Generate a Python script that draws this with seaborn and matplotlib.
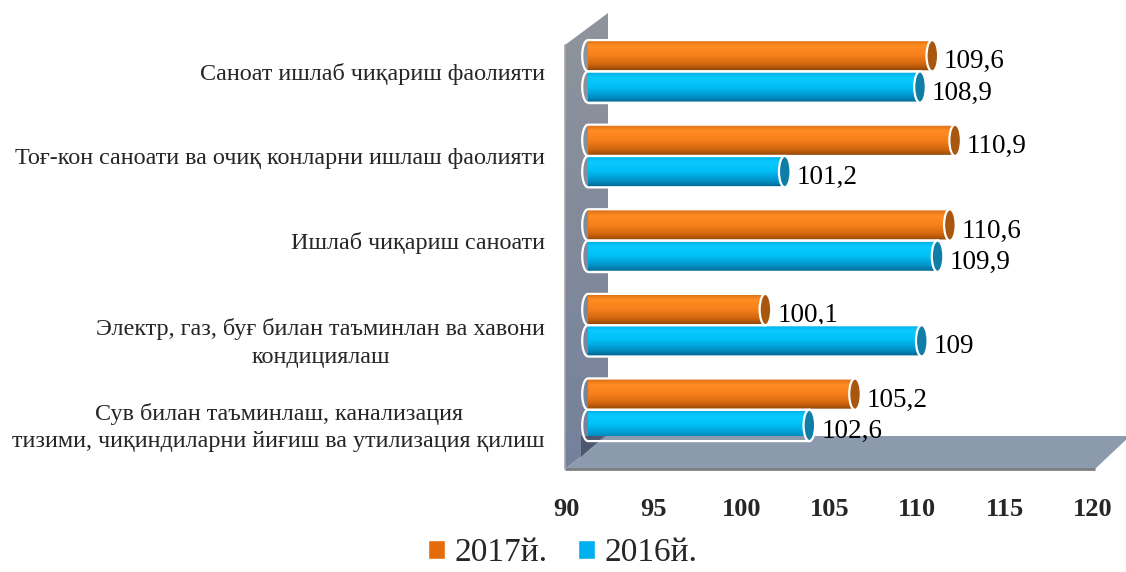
import matplotlib
matplotlib.use('Agg')
import matplotlib.pyplot as plt
import matplotlib.colors as mcolors
import matplotlib.transforms as mtransforms
from matplotlib.patches import Polygon, Ellipse, PathPatch
from matplotlib.path import Path
import numpy as np
import pandas as pd
import seaborn as sns

categories = [
    'Саноат ишлаб чиқариш фаолияти',
    'Тоғ-кон саноати ва очиқ конларни ишлаш фаолияти',
    'Ишлаб чиқариш саноати',
    'Электр, газ, буғ билан таъминлан ва хавони\nкондициялаш',
    'Сув билан таъминлаш, канализация\nтизими, чиқиндиларни йиғиш ва утилизация қилиш',
]
years = ['2017й.', '2016й.']
vals_2017 = [109.6, 110.9, 110.6, 100.1, 105.2]
vals_2016 = [108.9, 101.2, 109.9, 109, 102.6]
x_ticks = [90, 95, 100, 105, 110, 115, 120]

df = pd.DataFrame({
    'cat': categories * 2,
    'year': [years[0]] * len(categories) + [years[1]] * len(categories),
    'value': vals_2017 + vals_2016,
})

sns.set_style('white')
plt.rcParams['font.family'] = ['Liberation Serif', 'DejaVu Serif']

W, H = 1126, 572
fig = plt.figure(figsize=(W / 100, H / 100), dpi=100)

# grey 3d-ish wall and floor, drawn in pixel space
bg = fig.add_axes([0, 0, 1, 1], zorder=0)
bg.set_xlim(0, W)
bg.set_ylim(H, 0)
bg.axis('off')
floor_c = '#8c9aad'
wall = Polygon([(565, 469), (565, 45), (608, 13), (608, 436)], closed=True,
               facecolor='none', edgecolor='none')
bg.add_patch(wall)
wall_cmap = mcolors.LinearSegmentedColormap.from_list('w', ['#8f949c', '#75819b'])
wim = bg.imshow(wall_cmap(np.linspace(0, 1, 64))[:, None, :], extent=(565, 608, 469, 13),
                origin='upper', aspect='auto', interpolation='bilinear')
wim.set_clip_path(wall)
bg.add_patch(Polygon([(565, 469), (1095, 469), (1130, 436), (608, 436)], closed=True,
                     facecolor=floor_c, edgecolor='none'))
bg.add_patch(Polygon([(581, 457), (581, 436), (604, 436)], closed=True,
                     facecolor='#4d586e', edgecolor='none'))
bg.plot([565, 1095], [469, 469], color='#7f7f7f', lw=2, solid_capstyle='butt')
bg.plot([565, 565], [45, 469], color='#a6a6a6', lw=1.2)
bg.set_xlim(0, W)
bg.set_ylim(H, 0)

ax = fig.add_axes([588 / W, (H - 436) / H, 527 / W, 423 / H], zorder=1)
ax.set_facecolor('none')

orange = '#e46c0a'
blue = '#00b0f0'
sns.barplot(data=df, y='cat', x='value', hue='year', hue_order=years,
            palette=[orange, blue], orient='h', width=0.74, saturation=1,
            ax=ax, legend=True)

xlim = (90, 120)
ylim = (4.31, -0.69)
ax.set_xlim(*xlim)
ax.set_ylim(*ylim)

grad = {
    orange: (['#d46a14', '#ff8c22', '#f7801a', '#d0660e', '#8a4406'], '#a9560f'),
    blue: (['#00a8e0', '#0acaff', '#00bff5', '#0092c8', '#006690'], '#0f7ea6'),
}
ew = 0.66  # width of the end caps in data units

for cont, col in zip(ax.containers, [orange, blue]):
    stops, cap_c = grad[col]
    cmap = mcolors.LinearSegmentedColormap.from_list('g', list(zip([0, 0.2, 0.5, 0.8, 1], stops)))
    g = cmap(np.linspace(0, 1, 64))[:, None, :]
    for p in cont.patches:
        v = p.get_x() + p.get_width()
        y0 = p.get_y()
        h = p.get_height()
        y1 = y0 + h
        yc = y0 + h / 2
        x0 = xlim[0]
        t = np.linspace(np.pi / 2, 3 * np.pi / 2, 40)
        verts = [(v, y0)] + list(zip(x0 + ew / 2 * np.cos(t), yc - h / 2 * np.sin(t))) + [(v, y1), (v, y0)]
        codes = [Path.MOVETO] + [Path.LINETO] * (len(verts) - 2) + [Path.CLOSEPOLY]
        body = PathPatch(Path(verts, codes), facecolor='none', edgecolor='white',
                         lw=1.6, zorder=3, clip_on=False)
        ax.add_patch(body)
        im = ax.imshow(g, extent=(x0 - ew / 2, v, y1, y0), origin='upper',
                       aspect='auto', zorder=2, interpolation='bilinear')
        im.set_clip_path(body)
        ax.add_patch(Ellipse((v, yc), ew, h, facecolor=cap_c, edgecolor='white',
                             lw=1.6, zorder=4, clip_on=False))
        ax.annotate(f'{p.get_width():g}'.replace('.', ','), (v + ew / 2, yc),
                    xytext=(6, -6), textcoords='offset pixels',
                    ha='left', va='center', fontsize=19.5, color='black',
                    annotation_clip=False)

ax.set_xlim(*xlim)
ax.set_ylim(*ylim)
ax.set_xticks(x_ticks)
ax.set_xticklabels([str(t) for t in x_ticks], fontsize=19, fontweight='bold')
ax.tick_params(axis='x', length=0, pad=45)
ax.tick_params(axis='y', length=0, pad=31, labelsize=17.4)
ax.set_xlabel('')
ax.set_ylabel('')
for s in ax.spines.values():
    s.set_visible(False)

shift_x = mtransforms.ScaledTranslation(-22 / 100, 0, fig.dpi_scale_trans)
for lab in ax.get_xticklabels():
    lab.set_transform(lab.get_transform() + shift_x)
for lab in ax.get_yticklabels():
    lab.set_multialignment('center')
    lab.set_linespacing(1.4)
    if '\n' in lab.get_text():
        lab.set_transform(lab.get_transform() +
                          mtransforms.ScaledTranslation(0, -12 / 100, fig.dpi_scale_trans))

handles, labels = ax.get_legend_handles_labels()
ax.legend(handles, labels, loc='center', bbox_to_anchor=(0.5, 1 - 553 / H),
          bbox_transform=fig.transFigure, ncol=2, frameon=False, fontsize=24,
          handlelength=0.5, handleheight=0.5, handletextpad=0.3, columnspacing=0.9)

fig.savefig('out.png', dpi=100)
